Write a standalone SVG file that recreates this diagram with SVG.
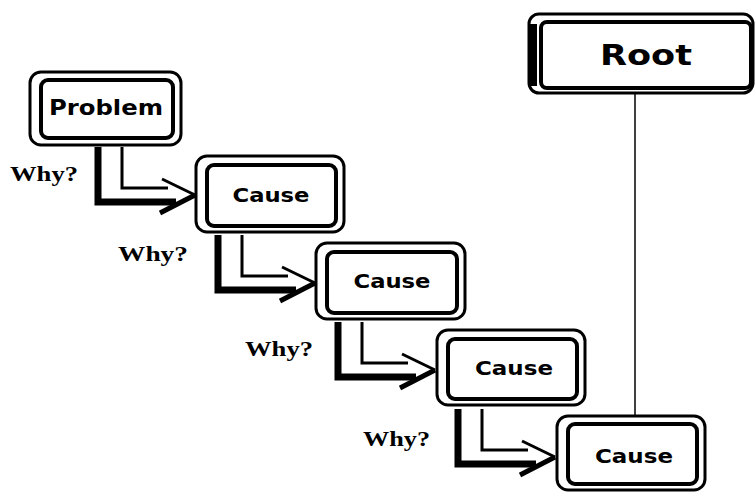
<svg xmlns="http://www.w3.org/2000/svg" width="756" height="492" viewBox="0 0 756 492">
<style>
.outer{fill:#fff;stroke:#000;stroke-width:3}
.inner{fill:none;stroke:#000;stroke-width:4}
.lbl{font-family:"DejaVu Sans",Verdana,sans-serif;font-weight:bold;fill:#000;text-anchor:middle}
.why{font-family:"Liberation Serif","Times New Roman",serif;font-weight:bold;font-size:20px;fill:#000}
.thick{fill:none;stroke:#000;stroke-width:7;stroke-linejoin:miter}
.thin{fill:none;stroke:#000;stroke-width:3}
.barb{fill:none;stroke:#000;stroke-linecap:butt}
</style>
<defs>
<g id="arrow">
<path class="thick" d="M98,147 V202 H176"/>
<path class="thin" d="M122,147 V188 H168"/>
<line class="barb" x1="162" y1="179" x2="195" y2="195" stroke-width="3"/>
<line class="barb" x1="160" y1="213" x2="195" y2="195" stroke-width="5"/>
</g>
</defs>
<rect width="756" height="492" fill="#fff"/>
<g id="connectors">
<use href="#arrow"/>
<use href="#arrow" transform="translate(120,88)"/>
<use href="#arrow" transform="translate(240,175)"/>
<use href="#arrow" transform="translate(360,262)"/>
<line x1="635" y1="93" x2="635" y2="418" stroke="#000" stroke-width="1.5"/>
</g>
<g id="problem">
<rect class="outer" x="30" y="72" width="151" height="73" rx="11"/>
<rect class="inner" x="41" y="80" width="132" height="58" rx="7"/>
<text class="lbl" x="106" y="115" font-size="21" textLength="114" lengthAdjust="spacingAndGlyphs">Problem</text>
</g>
<g id="cause1">
<rect class="outer" x="196" y="156" width="148" height="76" rx="11"/>
<rect class="inner" x="207" y="165" width="129" height="61" rx="7"/>
<text class="lbl" x="271" y="202" font-size="19" textLength="77" lengthAdjust="spacingAndGlyphs">Cause</text>
</g>
<g id="cause2">
<rect class="outer" x="316" y="243" width="149" height="76" rx="11"/>
<rect class="inner" x="327" y="252" width="130" height="61" rx="7"/>
<text class="lbl" x="392" y="288" font-size="19" textLength="77" lengthAdjust="spacingAndGlyphs">Cause</text>
</g>
<g id="cause3">
<rect class="outer" x="437" y="330" width="148" height="75" rx="11"/>
<rect class="inner" x="448" y="339" width="129" height="60" rx="7"/>
<text class="lbl" x="514" y="375" font-size="19" textLength="78" lengthAdjust="spacingAndGlyphs">Cause</text>
</g>
<g id="cause4">
<rect class="outer" x="557" y="416" width="148" height="74" rx="11"/>
<rect class="inner" x="568" y="424" width="129" height="60" rx="7"/>
<text class="lbl" x="634" y="463" font-size="19" textLength="78" lengthAdjust="spacingAndGlyphs">Cause</text>
</g>
<g id="root">
<rect class="outer" x="529" y="14" width="224" height="79" rx="10"/>
<rect class="inner" x="541" y="22" width="210" height="66" rx="6"/>
<line x1="533" y1="24" x2="533" y2="86" stroke="#000" stroke-width="8"/>
<text class="lbl" x="646" y="65" font-size="29" textLength="92" lengthAdjust="spacingAndGlyphs">Root</text>
</g>
<g id="labels">
<text class="why" x="10" y="181" textLength="68" lengthAdjust="spacingAndGlyphs">Why?</text>
<text class="why" x="118" y="261" textLength="70" lengthAdjust="spacingAndGlyphs">Why?</text>
<text class="why" x="245" y="356" textLength="68" lengthAdjust="spacingAndGlyphs">Why?</text>
<text class="why" x="363" y="446" textLength="67" lengthAdjust="spacingAndGlyphs">Why?</text>
</g>
</svg>
